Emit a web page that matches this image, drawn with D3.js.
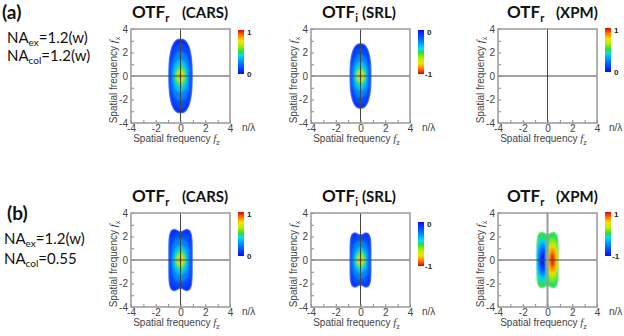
<!DOCTYPE html>
<html>
<head>
<meta charset="utf-8">
<script src="https://cdn.jsdelivr.net/npm/d3@7"></script>
<style>
  body { margin: 0; background: #fff; }
  svg { display: block; }
</style>
</head>
<body>
<div id="chart"></div>
<script>
// ---- text ----
var rowTags = ["(a)", "(b)"];
var naEx = ["1.2(w)", "1.2(w)"];
var naCol = ["1.2(w)", "0.55"];
var otfSub = ["r", "i", "r"];
var modality = ["CARS", "SRL", "XPM"];
var tickVals = [-4, -3, -2, -1, 0, 1, 2, 3, 4];
var tickLabels = [-4, -2, 0, 2, 4];
// colour bar end labels [top, bottom], row by row
var cbarLabels = [["1", "0"], ["0", "-1"], ["1", "0"], ["1", "0"], ["0", "-1"], ["1", "-1"]];

// ---- contour levels ----
// [colour position 0..1, centre fz, half width fz, half height fx, squareness, notch]
var levelsCarsA = [
  [0.06, 0, 1.0, 3.2, 2.5, 0], [0.14, 0, 0.9, 2.8, 2.3, 0], [0.26, 0, 0.76, 2.1, 2.2, 0],
  [0.38, 0, 0.6, 1.4, 2, 0], [0.5, 0, 0.45, 0.95, 2, 0], [0.62, 0, 0.32, 0.65, 2, 0],
  [0.74, 0, 0.22, 0.43, 2, 0], [0.87, 0, 0.13, 0.26, 2, 0], [0.98, 0, 0.05, 0.12, 2, 0]
];
var levelsSrlA = [
  [0.06, 0, 0.9, 2.8, 2.5, 0], [0.14, 0, 0.81, 2.45, 2.3, 0], [0.26, 0, 0.68, 1.85, 2.2, 0],
  [0.38, 0, 0.54, 1.25, 2, 0], [0.5, 0, 0.4, 0.85, 2, 0], [0.62, 0, 0.29, 0.58, 2, 0],
  [0.74, 0, 0.2, 0.38, 2, 0], [0.87, 0, 0.11, 0.23, 2, 0], [0.98, 0, 0.05, 0.11, 2, 0]
];
var levelsXpmA = [];
var levelsCarsB = [
  [0.06, 0, 1.0, 2.7, 5, 0.1], [0.14, 0, 0.9, 2.4, 3.5, 0.05], [0.26, 0, 0.76, 1.85, 2.5, 0],
  [0.38, 0, 0.6, 1.25, 2, 0], [0.5, 0, 0.45, 0.88, 2, 0], [0.62, 0, 0.32, 0.6, 2, 0],
  [0.74, 0, 0.22, 0.4, 2, 0], [0.87, 0, 0.12, 0.24, 2, 0], [0.98, 0, 0.05, 0.11, 2, 0]
];
var levelsSrlB = [
  [0.06, 0, 0.9, 2.4, 5, 0.1], [0.14, 0, 0.81, 2.15, 3.5, 0.05], [0.26, 0, 0.68, 1.65, 2.5, 0],
  [0.38, 0, 0.53, 1.1, 2, 0], [0.5, 0, 0.4, 0.78, 2, 0], [0.62, 0, 0.28, 0.54, 2, 0],
  [0.74, 0, 0.19, 0.36, 2, 0], [0.87, 0, 0.11, 0.22, 2, 0], [0.98, 0, 0.05, 0.1, 2, 0]
];
var levelsXpmB = [
  [0.50, 0, 0.92, 2.45, 5, 0.1],
  [0.40, -0.4, 0.5, 1.85, 2.2, 0], [0.27, -0.4, 0.4, 1.45, 2, 0], [0.14, -0.4, 0.3, 1.05, 2, 0], [0.03, -0.4, 0.17, 0.6, 2, 0],
  [0.60, 0.4, 0.5, 1.85, 2.2, 0], [0.73, 0.4, 0.4, 1.45, 2, 0], [0.86, 0.4, 0.3, 1.05, 2, 0], [0.97, 0.4, 0.17, 0.6, 2, 0]
];
var panelLevels = [levelsCarsA, levelsSrlA, levelsXpmA, levelsCarsB, levelsSrlB, levelsXpmB];

// ---- layout ----
var W = 624, H = 336;
var boxX = [131, 311, 498], boxY = [29, 213];
var boxW = 99, boxH = 94;
var titleX = [[132, 182], [322, 362], [507, 556]];
var cbarDy = [1, 1, -1, -1, 9, -1];

var jet = d3.scaleLinear()
  .domain([0, 0.15, 0.3, 0.42, 0.52, 0.64, 0.76, 0.88, 1])
  .range(["#0a0aff", "#0050ff", "#0098ff", "#00def0", "#30e030", "#b0f000", "#ffe000", "#ff7800", "#e00000"]);

var svg = d3.select("#chart").append("svg")
  .attr("width", W).attr("height", H)
  .style("font-family", "'Liberation Sans', Arial, sans-serif");

var defs = svg.append("defs");
defs.append("filter").attr("id", "soft")
  .attr("x", "-20%").attr("y", "-20%").attr("width", "140%").attr("height", "140%")
  .append("feGaussianBlur").attr("stdDeviation", 1.1);

var grad = defs.append("linearGradient").attr("id", "jetbar")
  .attr("x1", 0).attr("y1", 1).attr("x2", 0).attr("y2", 0);
grad.selectAll("stop").data(jet.domain()).enter().append("stop")
  .attr("offset", function(d) { return d; })
  .attr("stop-color", function(d) { return jet(d); });

function levelPath(lv, x, y) {
  var cz = lv[1], rz = lv[2], rx = lv[3], p = lv[4], notch = lv[5];
  var pts = d3.range(0, 2 * Math.PI, Math.PI / 90).map(function(t) {
    var u = Math.cos(t), v = Math.sin(t);
    var dz = rz * Math.sign(u) * Math.pow(Math.abs(u), 2 / p);
    var dx = rx * Math.sign(v) * Math.pow(Math.abs(v), 2 / p);
    dx = dx * (1 - notch * Math.exp(-Math.pow(dz / (0.3 * rz), 2)));
    return [x(cz + dz), y(dx)];
  });
  return d3.line().curve(d3.curveLinearClosed)(pts);
}

// ---- row labels ----
rowTags.forEach(function(tag, r) {
  var base = [19, 220][r];
  svg.append("text").attr("x", [2, 7][r]).attr("y", base)
    .style("font-family", "Lato, sans-serif").style("font-weight", "bold")
    .style("font-size", "19px").attr("fill", "#111").text(tag);
  var nx = [7, 4][r];
  var lines = [["ex", naEx[r]], ["col", naCol[r]]];
  lines.forEach(function(l, k) {
    var t = svg.append("text").attr("x", nx).attr("y", [[43, 61], [244, 264]][r][k])
      .style("font-family", "Lato, sans-serif").style("font-size", "15px").attr("fill", "#111");
    t.append("tspan").text("NA");
    t.append("tspan").attr("dy", 3).style("font-size", "10px").text(l[0]);
    t.append("tspan").attr("dy", -3).text("=" + l[1]);
  });
});

// ---- panels ----
panelLevels.forEach(function(levels, i) {
  var c = i % 3, r = Math.floor(i / 3);
  var x0 = boxX[c], y0 = boxY[r];
  var x = d3.scaleLinear().domain([-4, 4]).range([x0, x0 + boxW]);
  var y = d3.scaleLinear().domain([-4, 4]).range([y0 + boxH, y0]);
  var g = svg.append("g");

  // title
  var tt = g.append("text").attr("x", titleX[c][0]).attr("y", y0 - 11)
    .style("font-family", "Lato, sans-serif").style("font-weight", "bold")
    .style("font-size", "17px").attr("fill", "#111");
  tt.append("tspan").text("OTF");
  tt.append("tspan").attr("dy", 4).style("font-size", "11px").text(otfSub[c]);
  g.append("text").attr("x", titleX[c][1]).attr("y", y0 - 11)
    .style("font-family", "Lato, sans-serif").style("font-weight", "bold")
    .style("font-size", "15px").attr("fill", "#111").text("(" + modality[c] + ")");

  // map
  if (levels.length) {
    var cid = "clip" + i;
    defs.append("clipPath").attr("id", cid).append("path").attr("d", levelPath(levels[0], x, y));
    g.append("g").attr("clip-path", "url(#" + cid + ")")
      .append("g").attr("filter", "url(#soft)")
      .selectAll("path").data(levels).enter().append("path")
      .attr("d", function(d) { return levelPath(d, x, y); })
      .attr("fill", function(d) { return jet(d[0]); });
  }

  // zero lines
  g.append("line").attr("x1", x(-4)).attr("x2", x(4)).attr("y1", y(0)).attr("y2", y(0))
    .attr("stroke", "#444").attr("stroke-width", 1);
  g.append("line").attr("x1", x(0)).attr("x2", x(0)).attr("y1", y(-4)).attr("y2", y(4))
    .attr("stroke", i === 5 ? "#999" : "#444").attr("stroke-width", i === 5 ? 2 : 1);

  // axes
  var fmt = function(d) { return tickLabels.indexOf(d) >= 0 ? d : ""; };
  var ax = g.append("g").attr("transform", "translate(0," + (y0 + boxH) + ")")
    .call(d3.axisBottom(x).tickValues(tickVals).tickSizeInner(-3).tickSizeOuter(0).tickPadding(2).tickFormat(fmt));
  var ay = g.append("g").attr("transform", "translate(" + x0 + ",0)")
    .call(d3.axisLeft(y).tickValues(tickVals).tickSizeInner(-3).tickSizeOuter(0).tickPadding(3).tickFormat(fmt));
  [ax, ay].forEach(function(a) {
    a.select(".domain").remove();
    a.selectAll(".tick line").attr("stroke", "#888");
    a.selectAll("text").attr("fill", "#444").style("font-size", "10px")
      .style("font-family", "'Liberation Sans', Arial, sans-serif");
  });

  g.append("rect").attr("x", x0).attr("y", y0).attr("width", boxW).attr("height", boxH)
    .attr("fill", "none").attr("stroke", "#999").attr("stroke-width", 1.5);

  // axis titles
  var xl = g.append("text").attr("x", x0 + boxW / 2 - 4).attr("y", y0 + boxH + 19)
    .attr("text-anchor", "middle").attr("fill", "#444").style("font-size", "10px");
  xl.append("tspan").text("Spatial frequency  ");
  xl.append("tspan").style("font-family", "'Liberation Serif', serif").style("font-style", "italic").style("font-size", "11px").text("f");
  xl.append("tspan").attr("dy", 3).style("font-size", "7px").text("z");

  var yl = g.append("text")
    .attr("transform", "translate(" + (x0 - 14) + "," + (y0 + boxH / 2 + 4) + ") rotate(-90)")
    .attr("text-anchor", "middle").attr("fill", "#444").style("font-size", "10px");
  yl.append("tspan").text("Spatial frequency  ");
  yl.append("tspan").style("font-family", "'Liberation Serif', serif").style("font-style", "italic").style("font-size", "11px").text("f");
  yl.append("tspan").attr("dy", 3).style("font-size", "7px").text("x");

  g.append("text").attr("x", x0 + boxW + 12).attr("y", y0 + boxH + 8)
    .attr("fill", "#444").style("font-size", "10px").text("n/\u03bb");

  // colour bar
  var cbx = x0 + boxW + 8, cby = y0 + cbarDy[i], cbh = 44;
  var reversed = cbarLabels[i][0] === "0";
  g.append("rect").attr("x", cbx).attr("y", cby).attr("width", 6).attr("height", cbh)
    .attr("fill", "url(#jetbar)")
    .attr("transform", reversed ? "rotate(180," + (cbx + 3) + "," + (cby + cbh / 2) + ")" : null);
  g.append("text").attr("x", cbx + 9).attr("y", cby + 5).style("font-size", "8px")
    .style("font-weight", "bold").attr("fill", "#222").text(cbarLabels[i][0]);
  g.append("text").attr("x", cbx + (cbarLabels[i][1].length > 1 ? 7 : 9)).attr("y", cby + cbh + 3)
    .style("font-size", "8px").style("font-weight", "bold").attr("fill", "#222").text(cbarLabels[i][1]);
});
</script>
</body>
</html>
